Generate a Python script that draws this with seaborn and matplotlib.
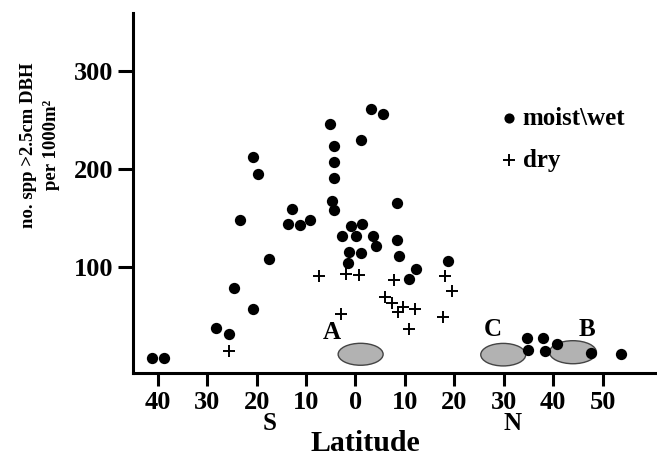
import matplotlib
matplotlib.use("Agg")
import matplotlib.pyplot as plt
from matplotlib.patches import Ellipse
import seaborn as sns
import pandas as pd

# ---- data ----
moist_lat = [-41.1, -38.8, -28.2, -25.6, -24.5, -20.7, -17.4, -20.7, -19.7, -23.3,
             -12.8, -13.6, -11.2, -9.1, -5.2, -4.3, -4.3, -4.4, -4.7, -4.3,
             3.1, 5.6, 1.1, 8.4, -0.8, 1.3, -2.7, 0.1, 3.5, 4.1,
             8.5, -1.3, 1.1, -1.5, 8.9, 12.2, 10.9, 18.7,
             34.8, 35.0, 37.9, 38.3, 40.7, 47.7, 53.7]
moist_spp = [7, 7, 38, 32, 79, 57, 108, 212, 195, 148,
             159, 144, 143, 148, 246, 223, 207, 191, 167, 158,
             261, 256, 229, 165, 142, 143.5, 131.6, 131.6, 131.6, 121,
             127, 115, 114, 104, 111.5, 98, 88, 106,
             28, 15, 27, 14, 21, 12.6, 10.9]
dry_lat = [-25.6, -7.3, -1.9, 0.7, -2.9, 7.8, 6.0, 7.3, 8.7, 9.7, 12.0, 10.9, 18.1, 19.6, 17.7]
dry_spp = [14, 91, 93, 92, 52, 87, 69, 63, 54, 59.5, 57, 37, 91, 75.5, 49]

x_ticks = [-40, -30, -20, -10, 0, 10, 20, 30, 40, 50]
x_tick_labels = ["40", "30", "20", "10", "0", "10", "20", "30", "40", "50"]
y_ticks = [100, 200, 300]

# regions: label, centre lat, centre value, width (deg), height (units)
region_names = ["A", "C", "B"]
region_lat = [1.05, 29.9, 44.0]
region_val = [10.9, 10.5, 13.0]
region_w = [9.1, 9.1, 9.5]
region_h = [22.4, 23.0, 23.5]
region_label_lat = [-4.8, 27.8, 46.8]
region_label_val = [33, 36, 36]

moist = pd.DataFrame({"lat": moist_lat, "spp": moist_spp})
dry = pd.DataFrame({"lat": dry_lat, "spp": dry_spp})

sns.set_theme(style="white")
plt.rcParams["font.family"] = ["Liberation Serif", "DejaVu Serif"]
plt.rcParams["font.weight"] = "bold"
plt.rcParams["text.color"] = "black"
plt.rcParams["axes.labelcolor"] = "black"
plt.rcParams["xtick.color"] = "black"
plt.rcParams["ytick.color"] = "black"

fig = plt.figure(figsize=(6.57, 4.59), dpi=100)
ax = fig.add_axes([133 / 657, 1 - 373 / 459, (655 - 133) / 657, (373 - 13) / 459])

for n, la, va, w, h in zip(region_names, region_lat, region_val, region_w, region_h):
    ax.add_patch(Ellipse((la, va), w, h, facecolor="#b2b2b2", edgecolor="#444444",
                         linewidth=1.0, zorder=1))
for n, la, va in zip(region_names, region_label_lat, region_label_val):
    ax.text(la, va, n, fontsize=18, fontweight="bold", ha="center", va="center",
            color="black")

sns.scatterplot(data=moist, x="lat", y="spp", ax=ax, marker="o", color="black",
                s=66, edgecolor="black", linewidth=0, label="moist\\wet", zorder=3)
sns.scatterplot(data=dry, x="lat", y="spp", ax=ax, marker="+", color="black",
                s=85, linewidth=1.4, label="dry", zorder=3)

ax.set_xlim(-45.0, 60.6)
ax.set_ylim(-8.2, 359)
ax.set_xticks(x_ticks)
ax.set_xticklabels(x_tick_labels)
ax.set_yticks(y_ticks)
ax.set_xlabel("")
ax.set_ylabel("")

for s in ["top", "right"]:
    ax.spines[s].set_visible(False)
for s in ["left", "bottom"]:
    ax.spines[s].set_linewidth(2.2)
    ax.spines[s].set_color("black")

ax.tick_params(axis="x", direction="out", length=9, width=2.2, pad=4,
               labelsize=19, bottom=True, colors="black")
ax.tick_params(axis="y", direction="out", length=11, width=2.2, pad=3,
               labelsize=19, left=True, colors="black")
for lab in ax.get_xticklabels() + ax.get_yticklabels():
    lab.set_fontweight("bold")

leg = ax.legend(loc="upper left", bbox_to_anchor=(500 / 657, 1 - 107 / 459),
                bbox_transform=fig.transFigure, frameon=False,
                prop={"size": 18, "weight": "bold"}, handlelength=0.7,
                handletextpad=0.2, labelspacing=0.75, borderpad=0,
                borderaxespad=0, markerscale=0.9)
for t in leg.get_texts():
    t.set_color("black")

fig.text(40 / 657, 1 - 145 / 459, "no. spp >2.5cm DBH\nper 1000m\u00b2",
         rotation=90, ha="center", va="center", fontsize=13.5, fontweight="bold",
         multialignment="center", linespacing=1.45, color="black")
fig.text(269.3 / 657, 1 - 430 / 459, "S", ha="center", va="baseline",
         fontsize=18, fontweight="bold", color="black")
fig.text(512.7 / 657, 1 - 430 / 459, "N", ha="center", va="baseline",
         fontsize=18, fontweight="bold", color="black")
fig.text(365 / 657, 1 - 451 / 459, "Latitude", ha="center", va="baseline",
         fontsize=21.5, fontweight="bold", color="black")

fig.savefig("out.png", dpi=100)
